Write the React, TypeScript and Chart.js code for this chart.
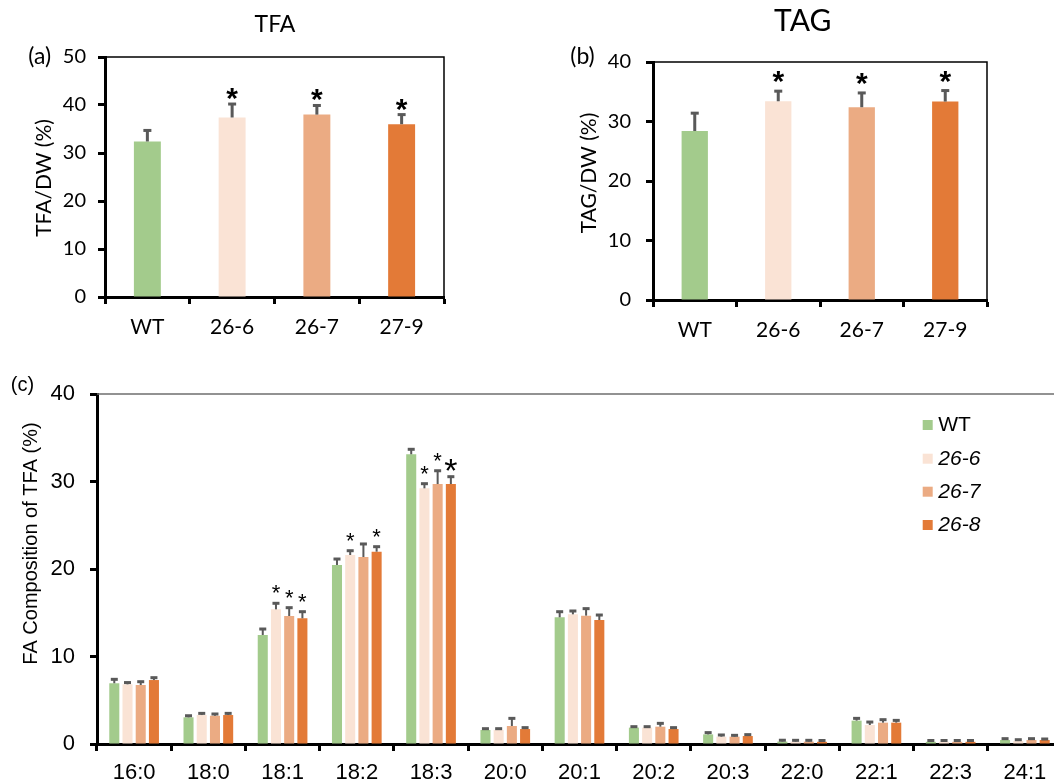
import React, { useEffect, useRef } from 'react';
import { Chart, registerables } from 'chart.js';

Chart.register(...registerables);

// ---------- Data ----------
const strainsAB = ['WT', '26-6', '26-7', '27-9'];
const tfaValues = [32.4, 37.4, 38.0, 36.0];
const tfaErrors = [2.3, 2.8, 1.9, 2.0];
const tfaSignificant = [false, true, true, true];
const tagValues = [28.4, 33.4, 32.4, 33.35];
const tagErrors = [3.0, 1.7, 2.4, 1.85];
const tagSignificant = [false, true, true, true];

const faCategories = ['16:0', '18:0', '18:1', '18:2', '18:3', '20:0', '20:1', '20:2', '20:3', '22:0', '22:1', '22:3', '24:1'];
const seriesNames = ['WT', '26-6', '26-7', '26-8'];
const wtValues = [6.94, 3.05, 12.46, 20.46, 33.11, 1.6, 14.48, 1.87, 1.1, 0.28, 2.67, 0.25, 0.46];
const wtErrors = [0.45, 0.18, 0.68, 0.68, 0.57, 0.15, 0.64, 0.11, 0.2, 0.15, 0.26, 0.15, 0.15];
const s266Values = [6.82, 3.31, 15.39, 21.6, 29.22, 1.6, 14.82, 1.87, 0.84, 0.27, 2.17, 0.25, 0.34];
const s266Errors = [0.2, 0.19, 0.69, 0.49, 0.53, 0.15, 0.38, 0.11, 0.19, 0.15, 0.34, 0.15, 0.15];
const s267Values = [6.74, 3.23, 14.63, 21.37, 29.71, 2.06, 14.67, 1.98, 0.84, 0.27, 2.44, 0.25, 0.46];
const s267Errors = [0.38, 0.2, 0.95, 1.49, 1.52, 0.87, 0.8, 0.38, 0.15, 0.15, 0.34, 0.15, 0.15];
const s268Values = [7.31, 3.31, 14.37, 21.98, 29.71, 1.71, 14.17, 1.71, 0.91, 0.25, 2.44, 0.25, 0.46];
const s268Errors = [0.27, 0.19, 0.75, 0.57, 0.84, 0.16, 0.57, 0.16, 0.16, 0.15, 0.26, 0.15, 0.11];
const sigWT: string[] = [];
const sig266 = ['18:1', '18:2', '18:3'];
const sig267 = ['18:1', '18:3'];
const sig268 = ['18:1', '18:2', '18:3'];
const bigStars = ['26-8@18:3'];

const yTicksTFA = [0, 10, 20, 30, 40, 50];
const yTicksTAG = [0, 10, 20, 30, 40];
const yTicksFA = [0, 10, 20, 30, 40];

// ---------- Styles ----------
const barColors = ['#A3CB8C', '#FAE3D5', '#EBAB83', '#E37A37'];
const errColor = '#595959';
const FONT_AB = 'Lato';
const FONT_C = '"Liberation Sans", Arial, sans-serif';

function text(ctx: CanvasRenderingContext2D, s: string, x: number, y: number, font: string, align: CanvasTextAlign = 'center', rotate = 0) {
  ctx.save();
  ctx.font = font;
  ctx.fillStyle = '#000';
  ctx.textAlign = align;
  ctx.textBaseline = 'middle';
  ctx.translate(x, y);
  if (rotate) ctx.rotate(rotate);
  ctx.fillText(s, 0, 0);
  ctx.restore();
}

function star(ctx: CanvasRenderingContext2D, x: number, yc: number, font: string) {
  ctx.save();
  ctx.font = font;
  ctx.fillStyle = '#000';
  ctx.textAlign = 'center';
  ctx.textBaseline = 'alphabetic';
  const m = ctx.measureText('*');
  const off = (m.actualBoundingBoxAscent - m.actualBoundingBoxDescent) / 2;
  ctx.fillText('*', x, yc + off);
  ctx.restore();
}

function drawErrors(chart: any, errs: number[][], lw: number, capW: number, capH: number) {
  const ctx = chart.ctx as CanvasRenderingContext2D;
  const ys = chart.scales.y;
  ctx.save();
  ctx.fillStyle = errColor;
  chart.data.datasets.forEach((ds: any, di: number) => {
    const meta = chart.getDatasetMeta(di);
    meta.data.forEach((el: any, j: number) => {
      const v = ds.data[j];
      const top = ys.getPixelForValue(v + errs[di][j]);
      const bt = ys.getPixelForValue(v);
      ctx.fillRect(el.x - lw / 2, top, lw, bt - top);
      ctx.fillRect(el.x - capW / 2, top - capH / 2, capW, capH);
    });
  });
  ctx.restore();
}

function axisCommon(font: any, pad: number, tl: number) {
  return {
    grid: { drawOnChartArea: false, drawTicks: true, tickLength: tl, tickWidth: 3, tickColor: '#000', color: '#000' },
    border: { display: true, color: '#000', width: 3 },
    ticks: { font, color: '#000', padding: pad },
  };
}

function smallChart(canvas: HTMLCanvasElement, cfg: any) {
  const decor = {
    id: 'decor' + cfg.id,
    afterDatasetsDraw(chart: any) {
      drawErrors(chart, [cfg.errors], 3, 8, 3);
      const ctx = chart.ctx;
      const ys = chart.scales.y;
      const meta = chart.getDatasetMeta(0);
      meta.data.forEach((el: any, j: number) => {
        if (!cfg.sig[j]) return;
        const top = ys.getPixelForValue(cfg.values[j] + cfg.errors[j]);
        star(ctx, el.x, top - cfg.starGap, `bold 30px ${FONT_C}`);
      });
    },
    afterDraw(chart: any) {
      const ctx = chart.ctx as CanvasRenderingContext2D;
      const a = chart.chartArea;
      ctx.save();
      ctx.strokeStyle = '#000';
      ctx.lineWidth = 1.5;
      ctx.beginPath();
      ctx.moveTo(a.left, a.top);
      ctx.lineTo(a.right, a.top);
      ctx.lineTo(a.right, a.bottom);
      ctx.stroke();
      ctx.restore();
      text(ctx, cfg.title, cfg.titleX, cfg.titleY, `${cfg.titleSize}px ${FONT_AB}`);
      text(ctx, cfg.panel, cfg.panelX, cfg.panelY, `23px ${FONT_AB}`);
      text(ctx, cfg.yTitle, cfg.yTitleX, cfg.yTitleY, `21px ${FONT_AB}`, 'center', -Math.PI / 2);
    },
  };
  const xa: any = axisCommon({ family: FONT_AB, size: 21 }, 11, 7);
  xa.grid.offset = true;
  xa.afterFit = (s: any) => { s.height = cfg.xHeight; };
  const ya: any = axisCommon({ family: FONT_AB, size: 20 }, cfg.yPad, 7);
  ya.min = 0;
  ya.max = cfg.yTicks[cfg.yTicks.length - 1];
  ya.afterBuildTicks = (s: any) => { s.ticks = cfg.yTicks.map((v: number) => ({ value: v })); };
  ya.afterFit = (s: any) => { s.width = cfg.yWidth; };
  return new Chart(canvas, {
    type: 'bar',
    data: {
      labels: strainsAB,
      datasets: [{ data: cfg.values, backgroundColor: barColors, barPercentage: cfg.barPct, categoryPercentage: 1 }],
    },
    options: {
      animation: false,
      responsive: false,
      maintainAspectRatio: false,
      layout: { padding: { top: cfg.padTop, right: cfg.padRight, left: 0, bottom: 0 } },
      plugins: { legend: { display: false }, tooltip: { enabled: false }, title: { display: false } },
      scales: { x: xa, y: ya },
    },
    plugins: [decor],
  });
}

function faChart(canvas: HTMLCanvasElement) {
  const valueSets = [wtValues, s266Values, s267Values, s268Values];
  const errSets = [wtErrors, s266Errors, s267Errors, s268Errors];
  const sigSets = [sigWT, sig266, sig267, sig268];
  const decor = {
    id: 'decorC',
    afterDatasetsDraw(chart: any) {
      drawErrors(chart, errSets, 2, 7, 3);
      const ctx = chart.ctx;
      const ys = chart.scales.y;
      sigSets.forEach((sig, di) => {
        const meta = chart.getDatasetMeta(di);
        sig.forEach((cat) => {
          const j = faCategories.indexOf(cat);
          const el: any = meta.data[j];
          const top = ys.getPixelForValue(valueSets[di][j] + errSets[di][j]);
          const big = bigStars.includes(seriesNames[di] + '@' + cat);
          star(ctx, el.x, top - (big ? 12 : 14), `${big ? 34 : 22}px ${FONT_C}`);
        });
      });
    },
    afterDraw(chart: any) {
      const ctx = chart.ctx as CanvasRenderingContext2D;
      const a = chart.chartArea;
      ctx.save();
      ctx.strokeStyle = '#6e6e6e';
      ctx.lineWidth = 1.5;
      ctx.beginPath();
      ctx.moveTo(a.left, a.top);
      ctx.lineTo(chart.width, a.top);
      ctx.stroke();
      ctx.restore();
      text(ctx, '(c)', 22.5, 35, `20px ${FONT_C}`);
      text(ctx, 'FA Composition of TFA (%)', 31, 193.5, `20px ${FONT_C}`, 'center', -Math.PI / 2);
      // legend
      const lx = 922.7;
      const ly = [75, 108.7, 141.7, 175];
      seriesNames.forEach((n, i) => {
        ctx.save();
        ctx.fillStyle = barColors[i];
        ctx.fillRect(lx, ly[i] - 5, 10, 10);
        ctx.restore();
        text(ctx, n, 938.3, ly[i], `${i === 0 ? '' : 'italic '}21px ${FONT_C}`, 'left');
      });
    },
  };
  const xa: any = axisCommon({ family: FONT_C, size: 22 }, 9, 7);
  xa.grid.offset = true;
  xa.afterFit = (s: any) => { s.height = 39; };
  const ya: any = axisCommon({ family: FONT_C, size: 22 }, 15, 7);
  ya.min = 0;
  ya.max = 40;
  ya.afterBuildTicks = (s: any) => { s.ticks = yTicksFA.map((v) => ({ value: v })); };
  ya.afterFit = (s: any) => { s.width = 97; };
  return new Chart(canvas, {
    type: 'bar',
    data: {
      labels: faCategories,
      datasets: seriesNames.map((n, i) => ({
        label: n,
        data: valueSets[i],
        backgroundColor: barColors[i],
        barPercentage: 0.76,
        categoryPercentage: 0.712,
      })),
    },
    options: {
      animation: false,
      responsive: false,
      maintainAspectRatio: false,
      layout: { padding: { top: 44, right: 18, left: 0, bottom: 0 } },
      plugins: { legend: { display: false }, tooltip: { enabled: false }, title: { display: false } },
      scales: { x: xa, y: ya },
    },
    plugins: [decor],
  });
}

export default function App() {
  const refA = useRef<HTMLCanvasElement>(null);
  const refB = useRef<HTMLCanvasElement>(null);
  const refC = useRef<HTMLCanvasElement>(null);

  useEffect(() => {
    const a = smallChart(refA.current!, {
      id: 'A', values: tfaValues, errors: tfaErrors, sig: tfaSignificant, yTicks: yTicksTFA,
      starGap: 10, title: 'TFA', titleX: 275, titleY: 25, titleSize: 23,
      panel: '(a)', panelX: 39.7, panelY: 57, yTitle: 'TFA/DW (%)', yTitleX: 44, yTitleY: 178,
      padTop: 57, padRight: 26, yWidth: 105, xHeight: 48, yPad: 12, barPct: 0.318,
    });
    const b = smallChart(refB.current!, {
      id: 'B', values: tagValues, errors: tagErrors, sig: tagSignificant, yTicks: yTicksTAG,
      starGap: 14, title: 'TAG', titleX: 282.7, titleY: 21, titleSize: 30,
      panel: '(b)', panelX: 62.5, panelY: 56.7, yTitle: 'TAG/DW (%)', yTitleX: 69, yTitleY: 173,
      padTop: 62, padRight: 67, yWidth: 133, xHeight: 45, yPad: 15, barPct: 0.315,
    });
    const c = faChart(refC.current!);
    return () => { a.destroy(); b.destroy(); c.destroy(); };
  }, []);

  return (
    <div style={{ position: 'fixed', left: 0, top: 0, width: 1054, height: 783, overflow: 'hidden', background: '#fff' }}>
      <canvas ref={refA} width={470} height={345} style={{ position: 'absolute', left: 0, top: 0, width: 470, height: 345 }} />
      <canvas ref={refB} width={534} height={345} style={{ position: 'absolute', left: 520, top: 0, width: 534, height: 345 }} />
      <canvas ref={refC} width={1080} height={433} style={{ position: 'absolute', left: 0, top: 350, width: 1080, height: 433 }} />
    </div>
  );
}
